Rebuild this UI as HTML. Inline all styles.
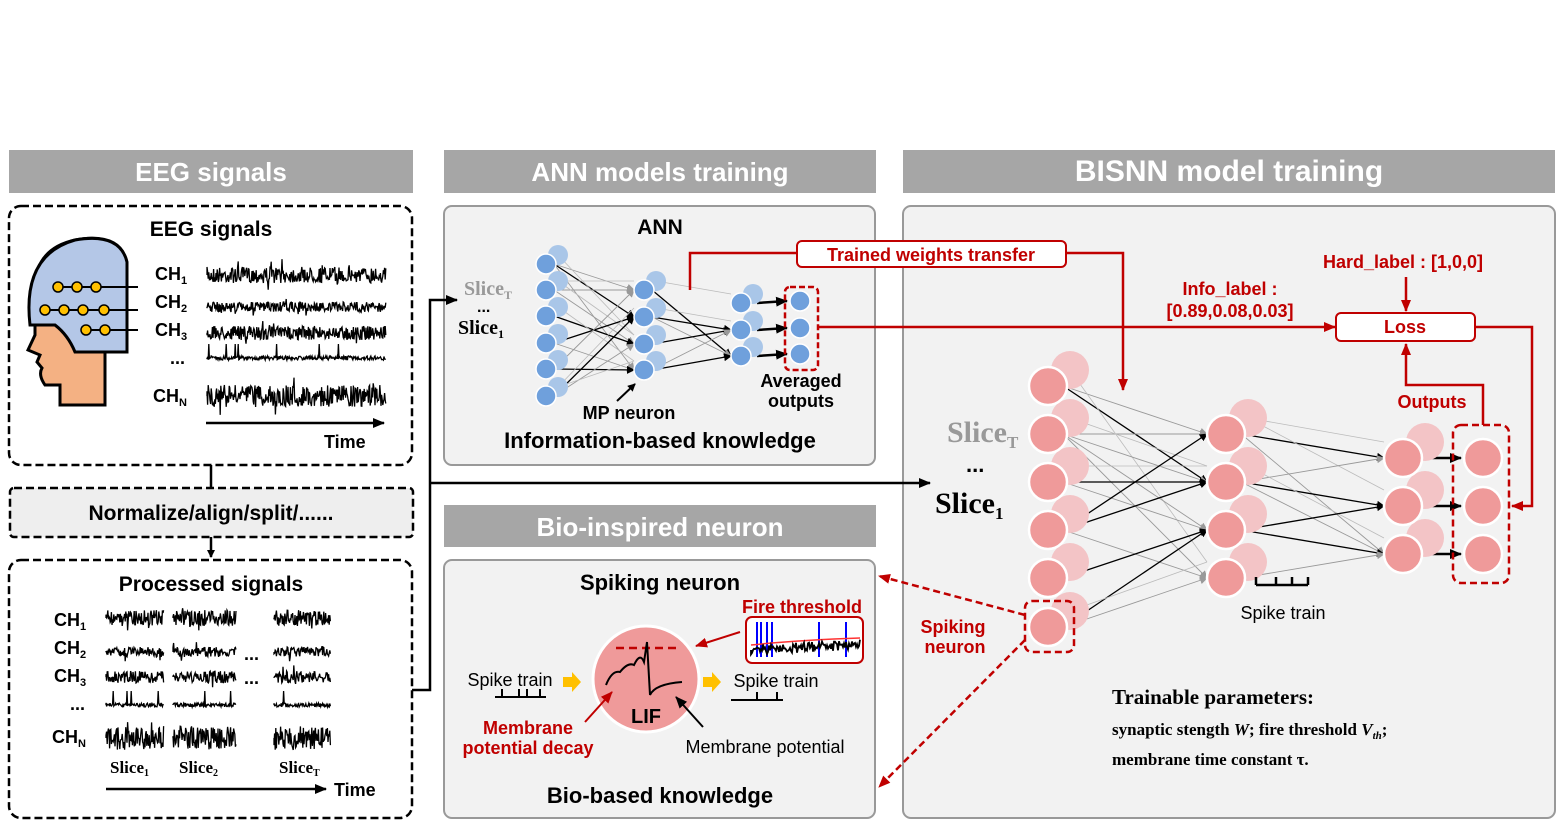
<!DOCTYPE html>
<html><head><meta charset="utf-8"><style>
html,body{margin:0;padding:0;background:#fff;}
svg{display:block;font-family:"Liberation Sans",Arial,sans-serif;}
.b{font-weight:bold;}
.serif{font-family:"Liberation Serif",serif;font-weight:bold;}
</style></head><body>
<svg id="s" width="1562" height="830" viewBox="0 0 1562 830" xmlns="http://www.w3.org/2000/svg">
<defs>
<marker id="ak" markerWidth="8" markerHeight="8" refX="7" refY="4" orient="auto" markerUnits="userSpaceOnUse"><path d="M0,0 L8,4 L0,8z" fill="#000"/></marker>
<marker id="ar" markerWidth="12" markerHeight="10" refX="11" refY="5" orient="auto" markerUnits="userSpaceOnUse"><path d="M0,0 L12,5 L0,10z" fill="#c00000"/></marker>
<marker id="ab" markerWidth="12" markerHeight="10" refX="11" refY="5" orient="auto" markerUnits="userSpaceOnUse"><path d="M0,0 L12,5 L0,10z" fill="#000"/></marker>
<marker id="ag" markerWidth="8" markerHeight="8" refX="7" refY="4" orient="auto" markerUnits="userSpaceOnUse"><path d="M0,0 L8,4 L0,8z" fill="#999"/></marker>
</defs>
<!-- header bars -->
<rect x="9" y="150" width="404" height="43" fill="#a6a6a6"/>
<text x="211" y="181" font-size="26" fill="#fff" class="b" text-anchor="middle">EEG signals</text>
<rect x="444" y="150" width="432" height="43" fill="#a6a6a6"/>
<text x="660" y="181" font-size="26" fill="#fff" class="b" text-anchor="middle">ANN models training</text>
<rect x="903" y="150" width="652" height="43" fill="#a6a6a6"/>
<text x="1229" y="181" font-size="30" fill="#fff" class="b" text-anchor="middle">BISNN model training</text>
<rect x="444" y="505" width="432" height="42" fill="#a6a6a6"/>
<text x="660" y="536" font-size="26" fill="#fff" class="b" text-anchor="middle">Bio-inspired neuron</text>

<!-- EEG boxes -->
<rect x="9" y="206" width="403" height="259" rx="12" fill="#fff" stroke="#000" stroke-width="2.5" stroke-dasharray="8,4"/>
<text x="211" y="236" font-size="21" class="b" text-anchor="middle">EEG signals</text>
<line x1="211" y1="465" x2="211" y2="487" stroke="#000" stroke-width="2.5"/>
<rect x="10" y="488" width="403" height="49" rx="4" fill="#eee" stroke="#000" stroke-width="2.5" stroke-dasharray="8,4"/>
<text x="211" y="520" font-size="21" class="b" text-anchor="middle">Normalize/align/split/......</text>
<line x1="211" y1="537" x2="211" y2="557" stroke="#000" stroke-width="2.5" marker-end="url(#ak)"/>
<rect x="9" y="560" width="403" height="258" rx="12" fill="#fff" stroke="#000" stroke-width="2.5" stroke-dasharray="8,4"/>
<text x="211" y="591" font-size="21" class="b" text-anchor="middle">Processed signals</text>

<!-- head -->
<path d="M35,300 Q30,250 75,240 Q115,232 125,260 L125,300 Q110,310 95,330 L105,345 L105,405 L60,405 L60,385 L45,385 Q38,375 42,368 L37,362 L40,355 L28,350 L35,335 Z" fill="#f4b183" stroke="#000" stroke-width="3"/>
<path d="M30,325 Q22,255 75,240 Q120,232 127,262 L127,352 L75,352 Q68,335 55,325 Z" fill="#b4c7e7" stroke="#000" stroke-width="3"/>
<g stroke="#000" stroke-width="2"><line x1="57" y1="287" x2="138" y2="287"/><line x1="40" y1="310" x2="138" y2="310"/><line x1="85" y1="330" x2="138" y2="330"/></g>
<g fill="#ffc000" stroke="#000" stroke-width="1.5">
<circle cx="58" cy="287" r="5"/><circle cx="77" cy="287" r="5"/><circle cx="96" cy="287" r="5"/>
<circle cx="45" cy="310" r="5"/><circle cx="64" cy="310" r="5"/><circle cx="83" cy="310" r="5"/><circle cx="104" cy="310" r="5"/>
<circle cx="86" cy="330" r="5"/><circle cx="105" cy="330" r="5"/></g>
<g font-size="18" class="b">
<text x="155" y="280">CH<tspan font-size="11" dy="4">1</tspan></text>
<text x="155" y="308">CH<tspan font-size="11" dy="4">2</tspan></text>
<text x="155" y="336">CH<tspan font-size="11" dy="4">3</tspan></text>
<text x="170" y="364">...</text>
<text x="153" y="402">CH<tspan font-size="11" dy="4">N</tspan></text>
<text x="324" y="448">Time</text>
</g>
<line x1="206" y1="423" x2="384" y2="423" stroke="#000" stroke-width="2.5" marker-end="url(#ab)"/>
<g id="waves" fill="none" stroke="#000" stroke-width="1.3"></g>

<g font-size="18" class="b">
<text x="54" y="626">CH<tspan font-size="11" dy="4">1</tspan></text>
<text x="54" y="654">CH<tspan font-size="11" dy="4">2</tspan></text>
<text x="54" y="682">CH<tspan font-size="11" dy="4">3</tspan></text>
<text x="70" y="710">...</text>
<text x="52" y="743">CH<tspan font-size="11" dy="4">N</tspan></text>
<text x="244" y="660">...</text><text x="244" y="684">...</text>
<text x="334" y="796">Time</text>
</g>
<g class="serif" font-size="17">
<text x="110" y="773">Slice<tspan font-size="10" dy="3">1</tspan></text>
<text x="179" y="773">Slice<tspan font-size="10" dy="3">2</tspan></text>
<text x="279" y="773">Slice<tspan font-size="10" dy="3">T</tspan></text>
</g>
<line x1="106" y1="789" x2="326" y2="789" stroke="#000" stroke-width="2.5" marker-end="url(#ab)"/>

<!-- panels -->
<rect x="444" y="206" width="431" height="259" rx="8" fill="#f2f2f2" stroke="#999" stroke-width="2"/>
<rect x="444" y="560" width="431" height="258" rx="8" fill="#f2f2f2" stroke="#999" stroke-width="2"/>
<rect x="903" y="206" width="652" height="612" rx="8" fill="#f2f2f2" stroke="#999" stroke-width="2"/>

<!-- connector from processed -->
<path d="M412,690 L430,690 L430,300 L457,300" fill="none" stroke="#000" stroke-width="2.5" marker-end="url(#ab)"/>
<line x1="430" y1="483" x2="930" y2="483" stroke="#000" stroke-width="2.5" marker-end="url(#ab)"/>

<!-- ANN -->
<text x="660" y="234" font-size="21" class="b" text-anchor="middle">ANN</text>
<text x="464" y="295" font-size="20" class="serif" fill="#999">Slice<tspan font-size="12" dy="4">T</tspan></text>
<text x="477" y="312" font-size="16" class="b">...</text>
<text x="458" y="334" font-size="20" class="serif">Slice<tspan font-size="12" dy="4">1</tspan></text>
<g id="ann"></g>
<rect x="785" y="287" width="33" height="83" rx="5" fill="none" stroke="#c00000" stroke-width="2.5" stroke-dasharray="6,3"/>
<text x="801" y="387" font-size="18" class="b" text-anchor="middle">Averaged</text>
<text x="801" y="407" font-size="18" class="b" text-anchor="middle">outputs</text>
<text x="629" y="419" font-size="18" class="b" text-anchor="middle">MP neuron</text>
<line x1="617" y1="401" x2="635" y2="384" stroke="#000" stroke-width="2" marker-end="url(#ak)"/>
<text x="660" y="448" font-size="22" class="b" text-anchor="middle">Information-based knowledge</text>

<!-- red connectors -->
<path d="M690,290 L690,253 L798,253" fill="none" stroke="#c00000" stroke-width="2.5"/>
<path d="M1066,253 L1123,253 L1123,390" fill="none" stroke="#c00000" stroke-width="2.5" marker-end="url(#ar)"/>
<rect x="797" y="241" width="269" height="26" rx="5" fill="#fff" stroke="#c00000" stroke-width="2"/>
<text x="931" y="261" font-size="18" class="b" fill="#c00000" text-anchor="middle">Trained weights transfer</text>
<path d="M818,327 L1335,327" fill="none" stroke="#c00000" stroke-width="2.5" marker-end="url(#ar)"/>
<text x="1230" y="295" font-size="18" class="b" fill="#c00000" text-anchor="middle">Info_label :</text>
<text x="1230" y="317" font-size="18" class="b" fill="#c00000" text-anchor="middle">[0.89,0.08,0.03]</text>
<text x="1403" y="268" font-size="18" class="b" fill="#c00000" text-anchor="middle">Hard_label : [1,0,0]</text>
<line x1="1406" y1="277" x2="1406" y2="311" stroke="#c00000" stroke-width="2.5" marker-end="url(#ar)"/>
<rect x="1336" y="313" width="139" height="28" rx="5" fill="#fff" stroke="#c00000" stroke-width="2"/>
<text x="1405" y="333" font-size="18" class="b" fill="#c00000" text-anchor="middle">Loss</text>
<path d="M1475,327 L1532,327 L1532,506 L1512,506" fill="none" stroke="#c00000" stroke-width="2.5" marker-end="url(#ar)"/>
<path d="M1483,425 L1483,385 L1406,385 L1406,344" fill="none" stroke="#c00000" stroke-width="2.5" marker-end="url(#ar)"/>
<text x="1432" y="408" font-size="18" class="b" fill="#c00000" text-anchor="middle">Outputs</text>

<!-- BISNN -->
<text x="947" y="442" font-size="30" class="serif" fill="#999">Slice<tspan font-size="17" dy="6">T</tspan></text>
<text x="966" y="472" font-size="22" class="b">...</text>
<text x="935" y="513" font-size="30" class="serif">Slice<tspan font-size="17" dy="6">1</tspan></text>
<g id="snn"></g>
<rect x="1453" y="425" width="56" height="158" rx="8" fill="none" stroke="#c00000" stroke-width="2.5" stroke-dasharray="7,4"/>
<rect x="1025" y="601" width="49" height="51" rx="7" fill="none" stroke="#c00000" stroke-width="2.5" stroke-dasharray="7,4"/>
<path d="M1256,585 L1256,577 M1256,585 L1308,585 M1276,585 L1276,577 M1292,585 L1292,577 M1308,585 L1308,577" stroke="#000" stroke-width="2.5" fill="none"/>
<text x="1283" y="619" font-size="18" text-anchor="middle">Spike train</text>
<text x="953" y="633" font-size="18" class="b" fill="#c00000" text-anchor="middle">Spiking</text>
<text x="955" y="653" font-size="18" class="b" fill="#c00000" text-anchor="middle">neuron</text>
<line x1="1025" y1="615" x2="879" y2="576" stroke="#c00000" stroke-width="2.5" stroke-dasharray="7,4" marker-end="url(#ar)"/>
<line x1="1025" y1="640" x2="879" y2="787" stroke="#c00000" stroke-width="2.5" stroke-dasharray="7,4" marker-end="url(#ar)"/>
<text x="1112" y="704" font-size="21" class="serif">Trainable parameters:</text>
<text x="1112" y="735" font-size="17" class="serif">synaptic stength <tspan font-style="italic">W</tspan>; fire threshold <tspan font-style="italic">V</tspan><tspan font-size="11" dy="4" font-style="italic">th</tspan><tspan dy="-4">;</tspan></text>
<text x="1112" y="765" font-size="17" class="serif">membrane time constant τ.</text>

<!-- Bio neuron -->
<text x="660" y="590" font-size="22" class="b" text-anchor="middle">Spiking neuron</text>
<circle cx="646" cy="679" r="53" fill="#ef9a9a" stroke="#fff" stroke-width="3"/>
<line x1="616" y1="648" x2="681" y2="648" stroke="#c00000" stroke-width="2.5" stroke-dasharray="8,5"/>
<path d="M606,685 Q612,670 620,672 Q628,662 634,665 Q640,652 644,662 L647,642 L650,695 Q655,684 682,682" fill="none" stroke="#000" stroke-width="2"/>
<text x="646" y="723" font-size="20" class="b" text-anchor="middle">LIF</text>
<text x="510" y="686" font-size="18" text-anchor="middle">Spike train</text>
<path d="M495,697 L546,697 M502,697 L502,689 M519,697 L519,689 M527,697 L527,689 M540,697 L540,689" stroke="#000" stroke-width="2" fill="none"/>
<path d="M563,677 L572,677 L572,672 L581,682 L572,692 L572,687 L563,687z" fill="#ffc000"/>
<path d="M703,677 L712,677 L712,672 L721,682 L712,692 L712,687 L703,687z" fill="#ffc000"/>
<text x="776" y="687" font-size="18" text-anchor="middle">Spike train</text>
<path d="M731,700 L783,700 M757,700 L757,692 M777,700 L777,692" stroke="#000" stroke-width="2" fill="none"/>
<text x="528" y="734" font-size="18" class="b" fill="#c00000" text-anchor="middle">Membrane</text>
<text x="528" y="754" font-size="18" class="b" fill="#c00000" text-anchor="middle">potential decay</text>
<line x1="585" y1="722" x2="612" y2="692" stroke="#c00000" stroke-width="2" marker-end="url(#ar)"/>
<text x="765" y="753" font-size="18" text-anchor="middle">Membrane potential</text>
<line x1="703" y1="727" x2="676" y2="697" stroke="#000" stroke-width="2" marker-end="url(#ab)"/>
<text x="802" y="613" font-size="18" class="b" fill="#c00000" text-anchor="middle">Fire threshold</text>
<rect x="746" y="617" width="117" height="46" rx="6" fill="#fff" stroke="#c00000" stroke-width="2"/>
<g stroke="#00f" stroke-width="2"><line x1="757" y1="622" x2="757" y2="657"/><line x1="761" y1="622" x2="761" y2="657"/><line x1="767" y1="622" x2="767" y2="657"/><line x1="772" y1="622" x2="772" y2="657"/><line x1="819" y1="622" x2="819" y2="657"/><line x1="846" y1="622" x2="846" y2="657"/></g>
<path d="M751,645 Q800,640 860,638" stroke="#f33" stroke-width="1.5" fill="none"/>
<path id="bioTrace" d="" stroke="#000" stroke-width="1.8" fill="none"/>
<line x1="740" y1="632" x2="696" y2="646" stroke="#c00000" stroke-width="2" marker-end="url(#ar)"/>
<text x="660" y="803" font-size="22" class="b" text-anchor="middle">Bio-based knowledge</text>
</svg>
<script>
var NS="http://www.w3.org/2000/svg";
function el(p,t,a){var e=document.createElementNS(NS,t);for(var k in a)e.setAttribute(k,a[k]);p.appendChild(e);return e;}
var seed=7;function rnd(){seed=(seed*16807)%2147483647;return seed/2147483647;}
function wave(g,x0,x1,yc,amp,spiky){var d="M"+x0+","+yc;for(var x=x0;x<=x1;x+=0.6){var v=(rnd()-0.5)*amp;if(spiky){v=v*0.3;if(rnd()<0.04)v=-amp;}else if(rnd()<0.03)v*=2;d+=" L"+x.toFixed(1)+","+(yc+v).toFixed(1);}el(g,"path",{d:d});}
var W=document.getElementById("waves");
var ys=[[275,16,0],[307,10,0],[333,14,0],[358,14,1],[396,22,0]];
ys.forEach(function(a){wave(W,207,386,a[0],a[1],a[2]);});
var ys2=[[618,16,0],[652,10,0],[677,12,0],[705,14,1],[738,24,0]];
ys2.forEach(function(a){wave(W,106,164,a[0],a[1],a[2]);wave(W,173,236,a[0],a[1],a[2]);wave(W,274,331,a[0],a[1],a[2]);});
var bt="M751,650";for(var x=751;x<=860;x+=1){bt+=" L"+x+","+(650-((x-751)*0.05)+(rnd()-0.5)*10).toFixed(1);}document.getElementById("bioTrace").setAttribute("d",bt);
function net(id,layers,r,off,fill,ghost,sw){
 var g=document.getElementById(id);
 for(var l=0;l<layers.length-2;l++){var A=layers[l],B=layers[l+1];
  A.ys.forEach(function(ya,i){B.ys.forEach(function(yb,j){if(rnd()<0.55){var dark=rnd()<0.45;
   el(g,"line",{x1:A.x+r*0.8,y1:ya,x2:B.x-r,y2:yb,stroke:dark?"#000":"#999","stroke-width":dark?1.3:0.9,"marker-end":dark?"url(#ak)":"url(#ag)"});}
   if(rnd()<0.25){el(g,"line",{x1:A.x+off[0],y1:ya+off[1],x2:B.x-r,y2:yb+off[1],stroke:"#bbb","stroke-width":0.8});}});});}
 var L3=layers[layers.length-2],L4=layers[layers.length-1];
 L3.ys.forEach(function(y,i){el(g,"line",{x1:L3.x+r+6,y1:y,x2:L4.x-r-3,y2:L4.ys[i],stroke:"#000","stroke-width":2.5,"marker-end":"url(#ab)"});});
 layers.forEach(function(L,li){L.ys.forEach(function(y){
  if(li<layers.length-1)el(g,"circle",{cx:L.x+off[0],cy:y+off[1],r:r,fill:ghost,stroke:"none"});});
  L.ys.forEach(function(y){el(g,"circle",{cx:L.x,cy:y,r:r,fill:fill,stroke:"#fff","stroke-width":sw});});});
}
net("ann",[{x:546,ys:[264,290,316,343,369,396]},{x:644,ys:[290,317,344,370]},{x:741,ys:[303,330,356]},{x:800,ys:[301,328,354]}],10,[12,-9],"#6fa0dc","#a9c6e8",1.5);
net("snn",[{x:1048,ys:[386,434,482,530,578,627]},{x:1226,ys:[434,482,530,578]},{x:1403,ys:[458,506,554]},{x:1483,ys:[458,506,554]}],19,[22,-16],"#ef9a9a","#f3c4c6",2.5);
</script>
</body></html>
